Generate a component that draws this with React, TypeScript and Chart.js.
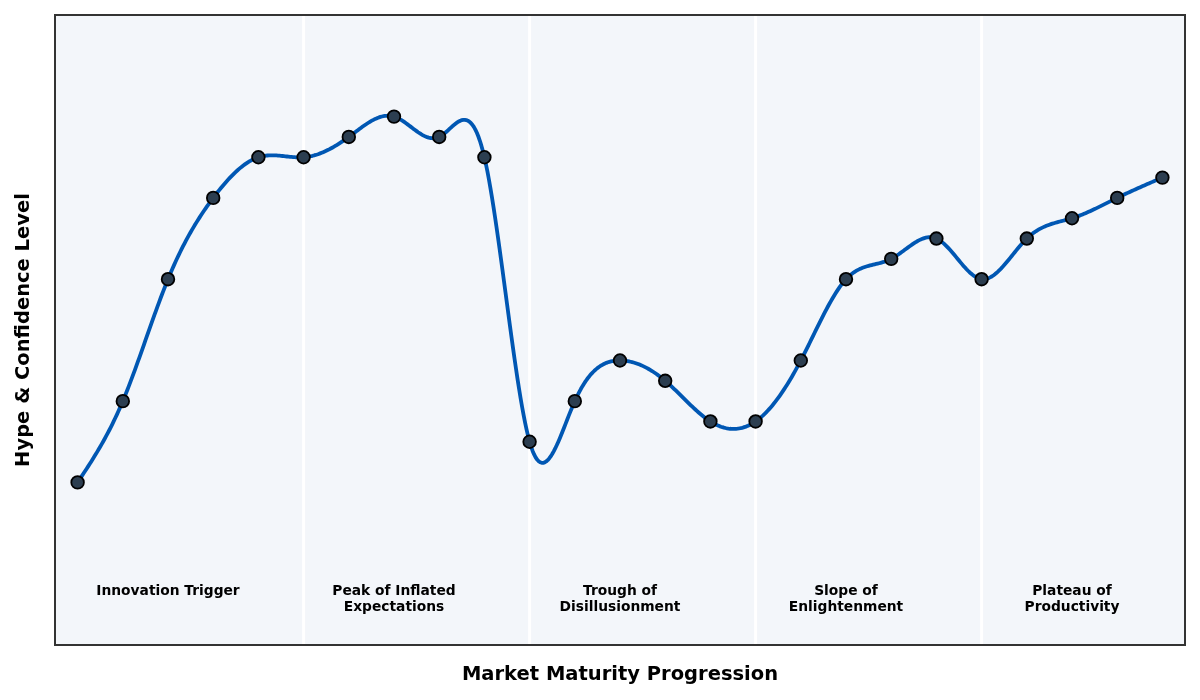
import { useEffect, useRef } from "react";
import { Chart, registerables } from "chart.js";

Chart.register(...registerables);

const steps = Array.from({ length: 25 }, (_, i) => i);
const hype = [10, 30, 60, 80, 90, 90, 95, 100, 95, 90, 20, 30, 40, 35, 25, 25, 40, 60, 65, 70, 60, 70, 75, 80, 85];
const phaseBounds = [5, 10, 15, 20];
const phaseCenters = [2, 7, 12, 17, 22];
const phaseLabels = [
  ["Innovation Trigger"],
  ["Peak of Inflated", "Expectations"],
  ["Trough of", "Disillusionment"],
  ["Slope of", "Enlightenment"],
  ["Plateau of", "Productivity"],
];

const FONT = "'DejaVu Sans', sans-serif";

// natural cubic spline second derivatives (uniform spacing h = 1)
function splineM(y: number[]) {
  const n = y.length;
  const m = new Array(n).fill(0);
  const c = new Array(n).fill(0);
  const d = new Array(n).fill(0);
  for (let i = 1; i < n - 1; i++) {
    const rhs = 6 * (y[i + 1] - 2 * y[i] + y[i - 1]);
    const denom = 4 - (i > 1 ? c[i - 1] : 0);
    c[i] = 1 / denom;
    d[i] = (rhs - (i > 1 ? d[i - 1] : 0)) / denom;
  }
  for (let i = n - 2; i >= 1; i--) {
    m[i] = d[i] - c[i] * m[i + 1];
  }
  return m;
}

const curvePlugin = {
  id: "hypeCurve",
  beforeDraw(chart: any) {
    const { ctx, chartArea: a } = chart;
    ctx.save();
    ctx.fillStyle = "#f3f6fa";
    ctx.fillRect(a.left, a.top, a.right - a.left, a.bottom - a.top);
    ctx.restore();
  },
  beforeDatasetsDraw(chart: any) {
    const { ctx, chartArea: a, scales } = chart;
    const xs = scales.x;
    const ys = scales.y;
    ctx.save();
    // phase separators
    ctx.strokeStyle = "#ffffff";
    ctx.lineWidth = 3;
    phaseBounds.forEach((b) => {
      const px = xs.getPixelForValue(b);
      ctx.beginPath();
      ctx.moveTo(px, a.top);
      ctx.lineTo(px, a.bottom);
      ctx.stroke();
    });
    // phase labels
    ctx.fillStyle = "#000000";
    ctx.font = `bold 13.8px ${FONT}`;
    ctx.textAlign = "center";
    ctx.textBaseline = "top";
    phaseLabels.forEach((lines, i) => {
      const px = xs.getPixelForValue(phaseCenters[i]);
      const py = ys.getPixelForValue(-15);
      lines.forEach((t, j) => ctx.fillText(t, px, py + j * 16));
    });
    // smooth curve
    const m = splineM(hype);
    ctx.strokeStyle = "#0057b3";
    ctx.lineWidth = 3.8;
    ctx.lineJoin = "round";
    ctx.beginPath();
    for (let i = 0; i < hype.length - 1; i++) {
      for (let k = 0; k <= 30; k++) {
        const t = k / 30;
        const v =
          (1 - t) * hype[i] +
          t * hype[i + 1] +
          (((1 - t) ** 3 - (1 - t)) * m[i] + (t ** 3 - t) * m[i + 1]) / 6;
        const px = xs.getPixelForValue(steps[i] + t);
        const py = ys.getPixelForValue(v);
        if (i === 0 && k === 0) ctx.moveTo(px, py);
        else ctx.lineTo(px, py);
      }
    }
    ctx.stroke();
    ctx.restore();
  },
  afterDraw(chart: any) {
    const { ctx, chartArea: a } = chart;
    ctx.save();
    ctx.strokeStyle = "#333333";
    ctx.lineWidth = 2;
    ctx.strokeRect(a.left, a.top, a.right - a.left, a.bottom - a.top);
    ctx.fillStyle = "#000000";
    ctx.font = `bold 19.5px ${FONT}`;
    ctx.textAlign = "center";
    ctx.textBaseline = "middle";
    ctx.fillText("Market Maturity Progression", (a.left + a.right) / 2, 675);
    ctx.translate(24, (a.top + a.bottom) / 2);
    ctx.rotate(-Math.PI / 2);
    ctx.fillText("Hype & Confidence Level", 0, 0);
    ctx.restore();
  },
};

export default function App() {
  const canvasRef = useRef<HTMLCanvasElement>(null);

  useEffect(() => {
    document.body.style.margin = "0";
    if (!canvasRef.current) return;
    const chart = new Chart(canvasRef.current, {
      type: "scatter",
      data: {
        datasets: [
          {
            data: steps.map((x, i) => ({ x, y: hype[i] })),
            showLine: false,
            pointRadius: 6.3,
            pointBackgroundColor: "#2c3e50",
            pointBorderColor: "#000000",
            pointBorderWidth: 1.8,
          },
        ],
      },
      options: {
        animation: false,
        responsive: false,
        events: [],
        layout: { padding: { left: 55, right: 15, top: 15, bottom: 55 } },
        scales: {
          x: { type: "linear", min: -0.5, max: 24.5, display: false },
          y: { type: "linear", min: -30, max: 125, display: false },
        },
        plugins: {
          legend: { display: false },
          tooltip: { enabled: false },
        },
      },
      plugins: [curvePlugin],
    });
    return () => chart.destroy();
  }, []);

  return (
    <div style={{ width: 1200, height: 700 }}>
      <canvas ref={canvasRef} width={1200} height={700} />
    </div>
  );
}
